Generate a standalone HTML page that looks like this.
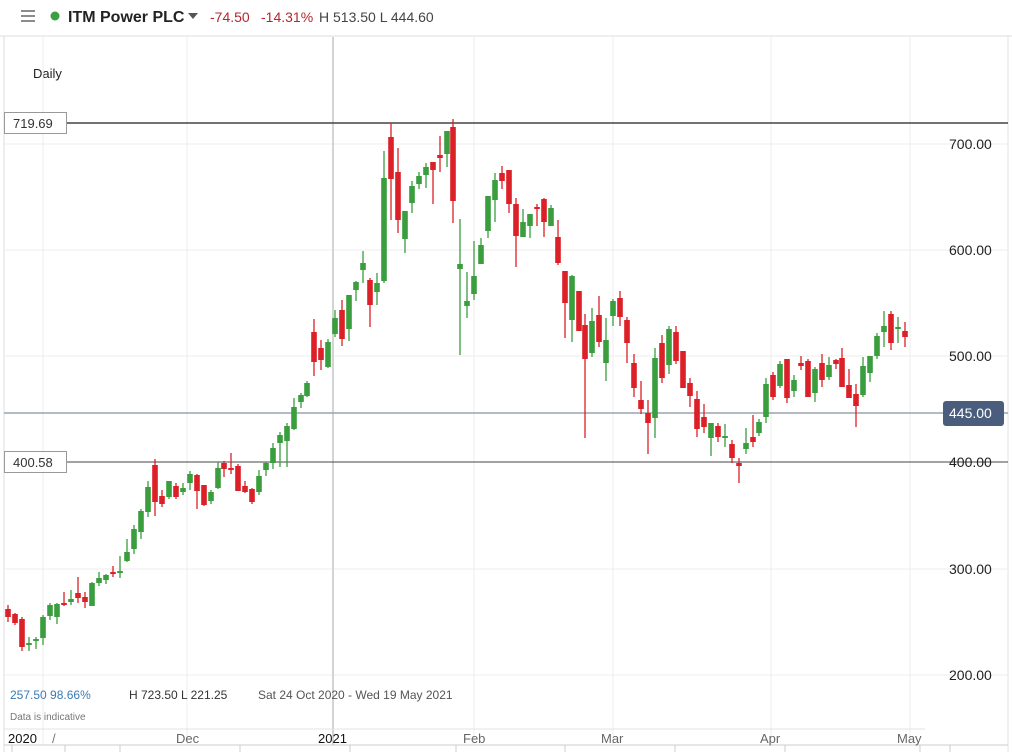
<!DOCTYPE html>
<html><head><meta charset="utf-8"><style>
html,body{margin:0;padding:0;background:#fff;width:1012px;height:752px;overflow:hidden;font-family:"Liberation Sans",sans-serif}
svg{position:absolute;left:0;top:0}
</style></head><body>
<svg width="1012" height="752" xmlns="http://www.w3.org/2000/svg" font-family="Liberation Sans, sans-serif">
<rect width="1012" height="752" fill="#fff"/>
<!-- header -->
<line x1="0" y1="36" x2="1012" y2="36" stroke="#ddd"/>
<line x1="4" y1="36" x2="4" y2="752" stroke="#ddd"/>
<line x1="1008" y1="36" x2="1008" y2="752" stroke="#e3e3e3"/>
<g stroke="#666" stroke-width="1.5"><line x1="21" y1="11" x2="35" y2="11"/><line x1="21" y1="16" x2="35" y2="16"/><line x1="21" y1="21" x2="35" y2="21"/></g>
<circle cx="55" cy="16" r="4.5" fill="#3aa040"/>
<text x="68" y="22" font-size="16" font-weight="bold" fill="#222">ITM Power PLC</text>
<path d="M188 13 L198 13 L193 19 Z" fill="#555"/>
<text x="210" y="22" font-size="14" fill="#b5272d">-74.50</text>
<text x="261" y="22" font-size="14" fill="#b5272d">-14.31%</text>
<text x="319" y="22" font-size="14" fill="#444">H 513.50  L 444.60</text>
<text x="33" y="78" font-size="13" fill="#222">Daily</text>
<!-- grid -->
<g stroke="#ececec" stroke-width="1">
<line x1="4" y1="144" x2="1008" y2="144"/><line x1="4" y1="250" x2="1008" y2="250"/>
<line x1="4" y1="356" x2="1008" y2="356"/><line x1="4" y1="569" x2="1008" y2="569"/>
<line x1="4" y1="675" x2="1008" y2="675"/>
<line x1="43" y1="37" x2="43" y2="745"/><line x1="187" y1="37" x2="187" y2="745"/>
<line x1="474" y1="37" x2="474" y2="745"/><line x1="613" y1="37" x2="613" y2="745"/>
<line x1="771" y1="37" x2="771" y2="745"/><line x1="910" y1="37" x2="910" y2="745"/>
</g>
<line x1="333" y1="37" x2="333" y2="745" stroke="#d4d4d4" stroke-width="2"/>
<line x1="4" y1="729" x2="925" y2="729" stroke="#e3e3e3"/>
<line x1="4" y1="745" x2="1008" y2="745" stroke="#ccc"/>
<g stroke="#ccc"><line x1="12" y1="745" x2="12" y2="752"/><line x1="65" y1="745" x2="65" y2="752"/><line x1="120" y1="745" x2="120" y2="752"/><line x1="240" y1="745" x2="240" y2="752"/><line x1="350" y1="745" x2="350" y2="752"/><line x1="456" y1="745" x2="456" y2="752"/><line x1="565" y1="745" x2="565" y2="752"/><line x1="675" y1="745" x2="675" y2="752"/><line x1="785" y1="745" x2="785" y2="752"/><line x1="920" y1="745" x2="920" y2="752"/><line x1="950" y1="745" x2="950" y2="752"/></g>
<!-- level lines -->
<line x1="4" y1="123" x2="1008" y2="123" stroke="#444" stroke-width="1.5"/>
<line x1="4" y1="413" x2="1008" y2="413" stroke="#9aa3ae" stroke-width="1.5"/>
<line x1="4" y1="462" x2="1008" y2="462" stroke="#444" stroke-width="1"/>
<g id="c"></g>
<rect x="4.5" y="112.5" width="62" height="21" fill="#fff" stroke="#999"/>
<text x="13" y="128" font-size="13" fill="#333">719.69</text>
<rect x="4.5" y="451.5" width="62" height="21" fill="#fff" stroke="#999"/>
<text x="13" y="467" font-size="13" fill="#333">400.58</text>
<!-- axis labels -->
<g font-size="14" fill="#222">
<text x="949" y="149">700.00</text><text x="949" y="255">600.00</text>
<text x="949" y="361">500.00</text><text x="949" y="467">400.00</text>
<text x="949" y="574">300.00</text><text x="949" y="680">200.00</text>
</g>
<rect x="943" y="401" width="61" height="25" rx="3" fill="#4a5d7c"/>
<text x="949" y="418" font-size="14" fill="#fff">445.00</text>
<!-- bottom info -->
<text x="10" y="699" font-size="12" fill="#3b7ab5">257.50   98.66%</text>
<text x="129" y="699" font-size="12" fill="#333">H 723.50   L 221.25</text>
<text x="258" y="699" font-size="12" fill="#555">Sat 24 Oct 2020 - Wed 19 May 2021</text>
<text x="10" y="720" font-size="10" fill="#777">Data is indicative</text>
<g font-size="13">
<text x="8" y="743" fill="#111">2020</text><text x="52" y="743" fill="#777">/</text>
<text x="176" y="743" fill="#666">Dec</text>
<text x="318" y="743" fill="#111">2021</text>
<text x="463" y="743" fill="#666">Feb</text>
<text x="601" y="743" fill="#666">Mar</text>
<text x="760" y="743" fill="#666">Apr</text>
<text x="897" y="743" fill="#666">May</text>
</g>
</svg>
<script>
var d=[[8,609,617,605,622,0],[15,614,623,613,625,0],[22,619,647,617,651,0],[29,643,645,637,651,1],[36,639,641,637,649,1],[43,617,638,615,645,1],[50,605,616,603,620,1],[57,604,617,603,624,1],[64,603,605,592,606,0],[71,599,602,590,605,1],[78,593,598,577,603,0],[85,597,602,592,608,0],[92,583,606,582,606,1],[99,578,583,572,586,1],[106,575,580,574,584,1],[113,572,574,566,577,0],[120,571,572,556,578,1],[127,552,561,539,562,1],[134,529,549,525,554,1],[141,511,532,509,539,1],[148,487,512,481,517,1],[155,465,502,459,516,0],[162,496,504,490,507,0],[169,481,497,481,499,1],[176,486,497,483,499,0],[183,488,492,483,495,1],[190,474,483,471,490,1],[197,475,491,474,509,0],[204,485,505,485,506,0],[211,492,501,490,504,1],[218,468,488,462,489,1],[224,463,469,461,477,0],[231,468,470,453,474,0],[238,466,491,464,491,0],[245,486,492,481,493,0],[252,489,502,488,504,0],[259,476,492,470,495,1],
[266,463,470,462,476,1],[273,448,463,443,469,1],[280,435,443,432,467,1],[287,426,441,423,467,1],[294,407,429,398,430,1],[301,395,402,393,408,1],[307,383,396,381,397,1],[314,332,362,319,376,0],[321,348,360,340,370,0],[328,342,367,339,368,1],[335,318,334,310,337,1],[342,310,339,300,346,0],[349,295,329,295,341,1],[356,282,290,281,301,1],[363,263,270,251,283,1],[370,280,305,278,327,0],[377,283,292,273,305,1],[384,178,281,151,283,1],[391,137,179,123,220,0],[398,172,220,148,233,0],[405,211,239,211,253,1],[412,186,203,181,213,1],[419,176,184,172,189,1],[426,167,175,163,188,1],[433,162,170,162,204,0],[440,155,158,136,172,0],[447,131,154,131,167,1],[453,127,201,119,223,0],[460,264,269,219,355,1],[467,301,306,272,318,1],[474,276,294,241,300,1],[481,245,264,238,264,1],[488,196,231,196,238,1],[495,180,200,173,222,1],[502,173,181,166,189,0],[509,170,204,170,213,0],[516,204,236,198,267,0],[523,222,237,209,237,1],[530,214,226,214,238,1],[537,207,209,204,226,0],[544,199,222,198,237,0],[551,208,226,205,226,1],[558,237,263,220,265,0],
[565,271,303,271,338,0],[572,276,320,275,342,1],[579,291,331,291,331,0],[585,325,359,314,438,0],[592,321,353,308,357,1],[599,315,342,296,347,0],[606,340,363,318,381,1],[613,301,316,299,326,1],[620,298,317,291,326,0],[627,320,343,317,363,0],[634,363,388,354,397,0],[641,400,409,381,414,0],[648,413,423,400,454,0],[655,358,418,348,438,1],[662,343,378,335,383,0],[669,329,365,326,374,1],[676,332,361,326,364,0],[683,351,388,351,388,0],[690,383,396,378,407,0],[697,399,429,391,437,0],[704,417,427,404,433,0],[711,423,438,423,456,1],[718,426,437,423,442,0],[725,436,438,424,447,1],[732,444,458,440,463,0],[739,463,466,458,483,0],[746,443,449,428,454,1],[753,437,442,415,447,0],[759,422,433,419,436,1],[766,384,417,378,423,1],[773,375,397,372,400,0],[780,364,386,361,388,1],[787,359,398,359,403,0],[794,380,391,375,397,1],[801,363,366,356,370,0],[808,361,397,359,397,0],[815,369,393,367,402,1],[822,363,380,354,387,0],[829,365,377,357,380,1],[836,360,364,359,369,0],[842,358,387,348,387,0],[849,385,398,369,398,0],[856,394,406,384,427,0],[863,366,395,357,397,1],[870,356,373,356,382,1],[877,336,356,333,359,1],[884,326,332,311,347,1],[891,314,343,311,350,0],[898,327,329,317,343,1],[905,331,337,322,347,0]];
var s='';d.forEach(function(c){var col=c[5]?'#3a9e3f':'#dc2027';s+='<line x1="'+c[0]+'" x2="'+c[0]+'" y1="'+c[3]+'" y2="'+c[4]+'" stroke="'+col+'" stroke-width="1.3"/>';var h=Math.max(c[2]-c[1],2);s+='<rect x="'+(c[0]-2.8)+'" y="'+c[1]+'" width="5.6" height="'+h+'" fill="'+col+'"/>';});
document.getElementById('c').innerHTML=s;
</script>
</body></html>
